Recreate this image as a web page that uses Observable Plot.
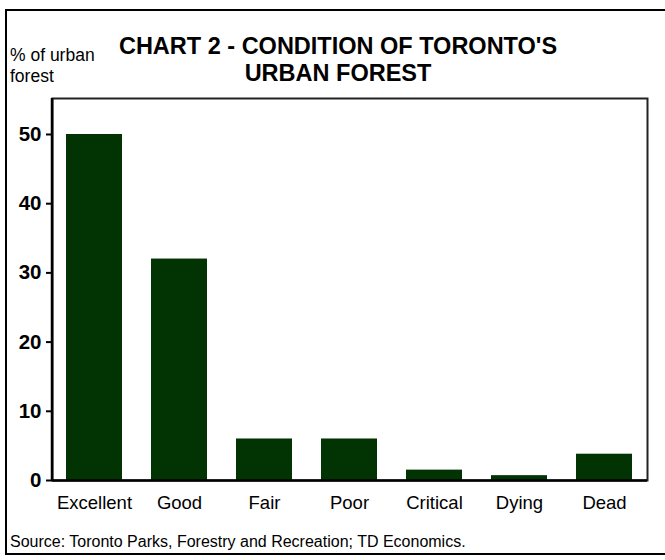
<!DOCTYPE html>
<html><head><meta charset="utf-8">
<script src="https://cdn.jsdelivr.net/npm/d3@7"></script>
<script src="https://cdn.jsdelivr.net/npm/@observablehq/plot@0.6"></script>
<style>
body{margin:0;background:#fff;font-family:"Liberation Sans",Arial,sans-serif;}
#wrap{position:relative;width:665px;height:560px;overflow:hidden;}
#border{position:absolute;left:5px;top:9px;width:680px;height:546px;border:2px solid #000;box-sizing:border-box;}
.t{position:absolute;white-space:nowrap;color:#000;}
</style></head>
<body>
<div id="wrap">
<div id="border"></div>
<div id="chart" style="position:absolute;left:0;top:0;"></div>
<div class="t" style="left:10px;top:45px;font-size:17.5px;line-height:21px;">% of urban<br>forest</div>
<div class="t" style="left:0;width:676px;text-align:center;top:33px;font-size:23.5px;font-weight:bold;line-height:27px;">CHART 2 - CONDITION OF TORONTO'S<br>URBAN FOREST</div>
<div class="t" style="left:10px;top:533px;font-size:16px;">Source: Toronto Parks, Forestry and Recreation; TD Economics.</div>
</div>
<script>
const categories = ["Excellent","Good","Fair","Poor","Critical","Dying","Dead"];
const values = [50, 32, 6, 6, 1.5, 0.7, 3.8];
const yTicks = [0,10,20,30,40,50];
const data = categories.map((c,i)=>({cat:c, v:values[i]}));

const plot = Plot.plot({
  width: 665, height: 560,
  marginLeft: 52, marginTop: 98, marginRight: 18, marginBottom: 80,
  style:{fontFamily:"Liberation Sans, Arial, sans-serif", background:"transparent"},
  x:{domain:categories, paddingInner:0.34, paddingOuter:0.17, label:null},
  y:{domain:[0,55.2], label:null},
  marks:[
    Plot.frame({stroke:"#222", strokeWidth:2}),
    Plot.barY(data,{x:"cat", y:"v", fill:"#023302"}),
    Plot.axisY({ticks:yTicks, tickSize:6, tickPadding:5, fontSize:20.5, fontWeight:"bold", stroke:"#000", strokeWidth:2, label:null}),
    Plot.axisX({tickSize:0, tickPadding:15, fontSize:18.5, label:null}),
    Plot.ruleY([0],{stroke:"#000", strokeWidth:2.5})
  ]
});
document.getElementById("chart").appendChild(plot);
const svg = d3.select(plot);
svg.append("line").attr("x1",52).attr("x2",52).attr("y1",98).attr("y2",481).attr("stroke","#000").attr("stroke-width",2.5);
</script>
</body></html>
